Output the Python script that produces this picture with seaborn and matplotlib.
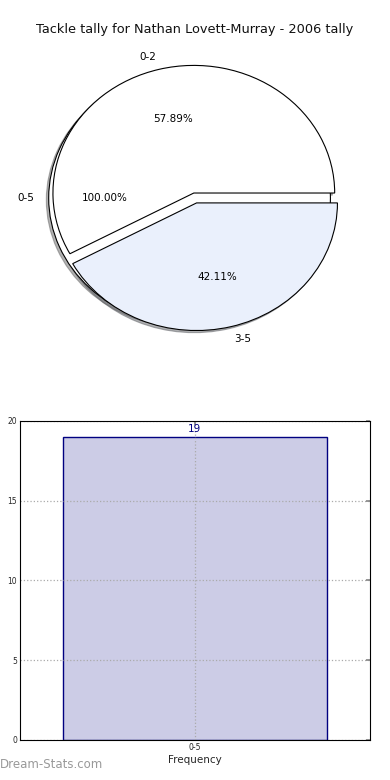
# -*- coding: utf-8 -*-
# Tackle tally pie + frequency bar, Nathan Lovett-Murray 2006
import pandas as pd
import seaborn as sns
import matplotlib
matplotlib.use("Agg")
import matplotlib.pyplot as plt

# %% data
title = "Tackle tally for Nathan Lovett-Murray - 2006 tally"
total_label = ["0-5"]
total_count = [19]
split_labels = ["0-2", "3-5"]
split_counts = [11, 8]
bar_labels = ["0-5"]
bar_values = [19]

# %% style
sns.set_theme(style="white")
plt.rcParams["font.family"] = ["DejaVu Sans"]

fig = plt.figure(figsize=(3.9, 7.8), dpi=100)

# %% pie (full range drawn first, split wedges over it)
ax1 = fig.add_axes([0.049, 0.5417, 0.903, 0.409])
wedge_kw = dict(edgecolor="black", linewidth=0.8)
shadow_kw = dict(ox=-0.012, oy=-0.012, shade=0.6)
ax1.pie(total_count, labels=total_label, autopct="%1.2f%%", explode=[0.04],
        colors=["white"], shadow=shadow_kw, wedgeprops=wedge_kw,
        textprops=dict(fontsize=7.5, color="black"))
ax1.pie(split_counts, labels=split_labels, autopct="%1.2f%%",
        explode=[0.04, 0.04], colors=["white", "#eaf0fc"], shadow=shadow_kw,
        wedgeprops=wedge_kw, textprops=dict(fontsize=7.5, color="black"))
ax1.set_aspect("auto")
ax1.set_xlim(-1.25, 1.25)
ax1.set_ylim(-1.25, 1.25)
fig.text(0.5, 0.962, title, ha="center", va="center", fontsize=9.3,
         color="#111111")

# %% bar
ax2 = fig.add_axes([0.0513, 0.0513, 0.897, 0.409])
df = pd.DataFrame({"range": bar_labels, "value": bar_values})
sns.barplot(data=df, x="range", y="value", ax=ax2, width=0.8,
            color="#cccce6", saturation=1)
for p in ax2.patches:
    p.set_edgecolor("#000080")
    p.set_linewidth(1.0)
    p.set_zorder(0.5)
ax2.set_xlim(-0.53, 0.53)
ax2.set_ylim(0, 20)
ax2.set_yticks([0, 5, 10, 15, 20])
ax2.grid(True, linestyle=":", color="#aaaaaa", linewidth=0.9)
ax2.set_axisbelow(False)
for s in ax2.spines.values():
    s.set_color("black")
    s.set_linewidth(0.8)
    s.set_zorder(3)
ax2.tick_params(axis="both", direction="in", length=3, labelsize=5.5,
                top=True, right=True, color="#888888", pad=2)
ax2.set_xlabel("Frequency", fontsize=7.5, labelpad=2)
ax2.set_ylabel("Stat Number", fontsize=7.5)
ax2.yaxis.set_label_coords(-0.055, 0.5)
for p, v in zip(ax2.patches, bar_values):
    ax2.text(p.get_x() + p.get_width() / 2, v + 0.2, str(v), ha="center",
             va="bottom", color="navy", fontsize=7.5)

fig.text(0.0, 0.012, "Dream-Stats.com", fontsize=8.5, color="#999999",
         ha="left", va="bottom")

fig.savefig("out.png", dpi=100)
